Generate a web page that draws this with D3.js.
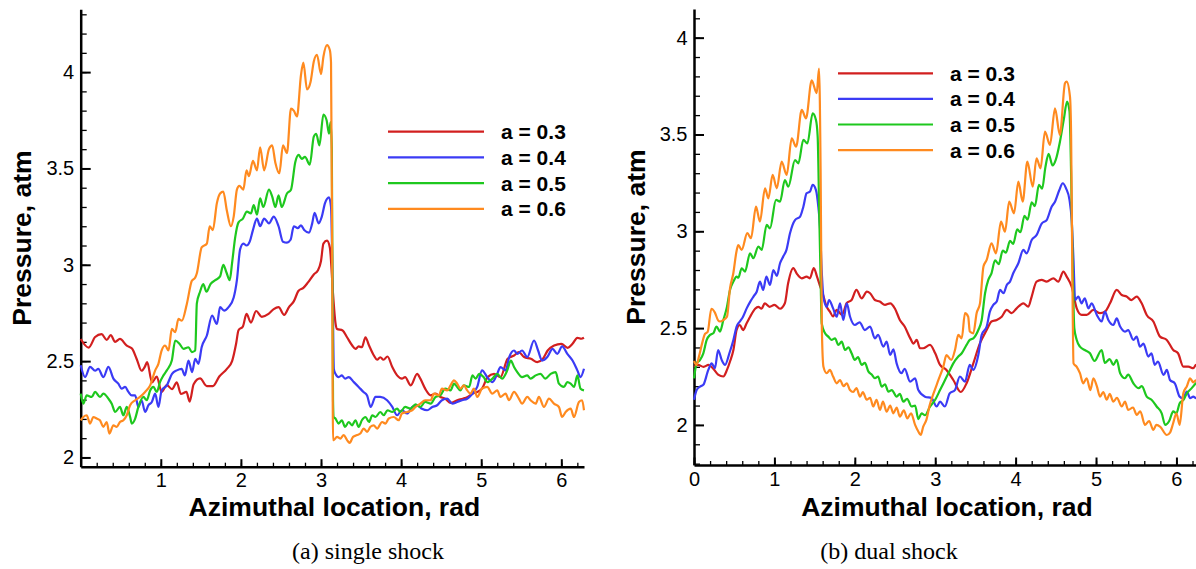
<!DOCTYPE html>
<html>
<head>
<meta charset="utf-8">
<script src="https://cdn.jsdelivr.net/npm/d3@7"></script>
<style>
  body { margin: 0; background: #fff; }
</style>
</head>
<body>
<div id="chart"></div>
<script>
const width = 1196;
const height = 569;

const seriesLabels = ["a = 0.3", "a = 0.4", "a = 0.5", "a = 0.6"];
const seriesColors = ["#d21f1f", "#3b3bf5", "#1ec81e", "#ff8a1f"];

const yTickValues = [2, 2.5, 3, 3.5, 4];
const xTicksSingle = [1, 2, 3, 4, 5, 6];
const xTicksDual = [0, 1, 2, 3, 4, 5, 6];

// (a) single shock : [azimuth rad, pressure atm]
const singleA03 = [[0,2.615],[0.10,2.57],[0.18,2.625],[0.26,2.64],[0.325,2.61],[0.375,2.635],[0.43,2.60],[0.49,2.615],[0.575,2.58],[0.64,2.565],[0.70,2.51],[0.76,2.45],[0.80,2.47],[0.83,2.495],[0.89,2.39],[0.95,2.42],[1.01,2.34],[1.075,2.375],[1.14,2.355],[1.20,2.39],[1.25,2.33],[1.32,2.34],[1.36,2.29],[1.41,2.38],[1.49,2.41],[1.575,2.37],[1.65,2.37],[1.73,2.42],[1.825,2.46],[1.89,2.50],[1.94,2.59],[1.97,2.66],[2.025,2.68],[2.07,2.745],[2.125,2.70],[2.19,2.76],[2.26,2.73],[2.345,2.745],[2.41,2.77],[2.47,2.78],[2.54,2.74],[2.60,2.78],[2.66,2.81],[2.72,2.865],[2.78,2.88],[2.84,2.91],[2.91,2.95],[2.96,2.97],[3.0,3.02],[3.03,3.11],[3.075,3.125],[3.11,3.09],[3.15,2.85],[3.18,2.70],[3.20,2.667],[3.27,2.659],[3.325,2.624],[3.39,2.581],[3.43,2.564],[3.47,2.576],[3.51,2.572],[3.555,2.624],[3.60,2.581],[3.66,2.529],[3.70,2.507],[3.74,2.52],[3.78,2.507],[3.83,2.524],[3.89,2.469],[3.95,2.426],[4.01,2.409],[4.05,2.417],[4.12,2.374],[4.20,2.434],[4.24,2.409],[4.30,2.357],[4.37,2.322],[4.43,2.331],[4.49,2.314],[4.55,2.305],[4.62,2.283],[4.70,2.297],[4.77,2.305],[4.83,2.314],[4.89,2.331],[4.95,2.34],[5.01,2.357],[5.08,2.417],[5.16,2.434],[5.24,2.417],[5.33,2.512],[5.41,2.529],[5.47,2.547],[5.535,2.521],[5.62,2.512],[5.70,2.495],[5.77,2.512],[5.83,2.555],[5.91,2.581],[6.0,2.59],[6.08,2.569],[6.14,2.59],[6.2,2.621],[6.25,2.616],[6.283,2.621]];
const singleA04 = [[0,2.478],[0.054,2.417],[0.117,2.47],[0.18,2.45],[0.22,2.46],[0.283,2.417],[0.346,2.47],[0.408,2.409],[0.47,2.383],[0.51,2.357],[0.554,2.366],[0.596,2.34],[0.637,2.322],[0.68,2.322],[0.72,2.262],[0.76,2.297],[0.804,2.236],[0.846,2.271],[0.888,2.288],[0.93,2.331],[0.97,2.262],[1.01,2.348],[1.075,2.374],[1.14,2.434],[1.2,2.452],[1.26,2.46],[1.30,2.426],[1.346,2.503],[1.39,2.443],[1.43,2.512],[1.47,2.486],[1.51,2.572],[1.575,2.633],[1.64,2.736],[1.70,2.693],[1.74,2.78],[1.79,2.762],[1.846,2.78],[1.91,2.83],[1.95,2.92],[1.99,3.08],[2.03,3.11],[2.07,3.10],[2.11,3.12],[2.15,3.18],[2.2,3.24],[2.24,3.2],[2.29,3.24],[2.35,3.215],[2.41,3.25],[2.47,3.2],[2.525,3.12],[2.575,3.115],[2.62,3.13],[2.66,3.2],[2.71,3.19],[2.75,3.205],[2.79,3.18],[2.85,3.167],[2.89,3.215],[2.92,3.27],[2.97,3.215],[3.01,3.25],[3.05,3.32],[3.1,3.35],[3.125,3.30],[3.145,2.9],[3.16,2.46],[3.18,2.434],[3.22,2.417],[3.26,2.426],[3.30,2.409],[3.346,2.417],[3.41,2.391],[3.47,2.366],[3.53,2.34],[3.575,2.322],[3.62,2.262],[3.68,2.314],[3.74,2.314],[3.825,2.297],[3.89,2.262],[3.95,2.219],[4.01,2.245],[4.075,2.228],[4.14,2.262],[4.2,2.271],[4.26,2.253],[4.325,2.245],[4.39,2.262],[4.45,2.271],[4.51,2.297],[4.575,2.305],[4.64,2.279],[4.70,2.288],[4.76,2.297],[4.825,2.305],[4.89,2.331],[4.95,2.366],[5.01,2.452],[5.075,2.417],[5.14,2.391],[5.2,2.434],[5.24,2.469],[5.305,2.452],[5.35,2.521],[5.41,2.555],[5.45,2.538],[5.51,2.555],[5.575,2.521],[5.66,2.607],[5.71,2.555],[5.76,2.503],[5.825,2.521],[5.89,2.564],[5.95,2.538],[6.01,2.576],[6.075,2.538],[6.14,2.503],[6.2,2.452],[6.24,2.417],[6.283,2.46]];
const singleA05 = [[0,2.331],[0.033,2.279],[0.075,2.322],[0.1375,2.314],[0.18,2.34],[0.24,2.314],[0.283,2.331],[0.346,2.305],[0.3875,2.279],[0.43,2.236],[0.49,2.262],[0.533,2.219],[0.575,2.262],[0.617,2.21],[0.6375,2.176],[0.68,2.202],[0.72,2.262],[0.783,2.314],[0.825,2.297],[0.867,2.348],[0.908,2.366],[0.95,2.34],[0.99,2.391],[1.033,2.426],[1.075,2.452],[1.1375,2.503],[1.18,2.607],[1.233,2.59],[1.283,2.564],[1.346,2.572],[1.3875,2.547],[1.43,2.555],[1.45,2.80],[1.49,2.86],[1.53,2.90],[1.57,2.86],[1.62,2.90],[1.68,2.92],[1.74,2.94],[1.78,3.0],[1.82,2.96],[1.86,2.92],[1.89,3.01],[1.93,3.146],[1.97,3.22],[2.025,3.24],[2.075,3.276],[2.125,3.267],[2.16,3.31],[2.2,3.26],[2.24,3.345],[2.28,3.30],[2.35,3.39],[2.39,3.355],[2.43,3.30],[2.47,3.36],[2.51,3.30],[2.575,3.37],[2.625,3.39],[2.68,3.535],[2.72,3.57],[2.76,3.55],[2.8,3.56],[2.86,3.52],[2.91,3.665],[2.94,3.68],[2.98,3.62],[3.03,3.78],[3.07,3.75],[3.1,3.68],[3.12,3.74],[3.135,3.6],[3.15,2.3],[3.158,2.21],[3.18,2.202],[3.22,2.176],[3.26,2.193],[3.30,2.159],[3.346,2.184],[3.3875,2.167],[3.43,2.193],[3.47,2.159],[3.51,2.193],[3.555,2.21],[3.6,2.184],[3.64,2.219],[3.68,2.21],[3.74,2.236],[3.783,2.219],[3.83,2.245],[3.89,2.236],[3.95,2.253],[3.99,2.236],[4.05,2.262],[4.117,2.253],[4.18,2.276],[4.24,2.262],[4.30,2.288],[4.37,2.279],[4.43,2.314],[4.49,2.322],[4.55,2.357],[4.617,2.348],[4.66,2.383],[4.70,2.366],[4.74,2.348],[4.783,2.374],[4.85,2.366],[4.89,2.426],[4.93,2.409],[4.975,2.434],[5.03,2.417],[5.075,2.391],[5.14,2.409],[5.2,2.434],[5.26,2.409],[5.325,2.452],[5.37,2.503],[5.41,2.469],[5.45,2.443],[5.51,2.417],[5.575,2.426],[5.617,2.409],[5.68,2.426],[5.74,2.434],[5.80,2.409],[5.867,2.434],[5.93,2.443],[5.97,2.383],[6.033,2.366],[6.075,2.391],[6.117,2.383],[6.16,2.366],[6.2,2.426],[6.24,2.357],[6.283,2.348]];
const singleA06 = [[0,2.193],[0.033,2.21],[0.075,2.219],[0.117,2.176],[0.158,2.21],[0.2,2.202],[0.24,2.193],[0.283,2.159],[0.325,2.184],[0.358,2.124],[0.408,2.167],[0.45,2.159],[0.49,2.184],[0.533,2.193],[0.575,2.219],[0.617,2.271],[0.68,2.297],[0.74,2.314],[0.804,2.34],[0.867,2.374],[0.93,2.452],[0.97,2.486],[1.01,2.555],[1.054,2.581],[1.096,2.555],[1.1375,2.667],[1.18,2.65],[1.22,2.719],[1.2625,2.71],[1.325,2.797],[1.3875,2.917],[1.43,2.934],[1.45,2.956],[1.51,3.09],[1.575,3.11],[1.61,3.20],[1.65,3.18],[1.70,3.32],[1.74,3.37],[1.78,3.38],[1.825,3.28],[1.875,3.2],[1.91,3.25],[1.95,3.39],[1.98,3.41],[2.03,3.39],[2.07,3.49],[2.1,3.46],[2.15,3.54],[2.2,3.49],[2.24,3.61],[2.29,3.49],[2.35,3.60],[2.39,3.62],[2.43,3.53],[2.48,3.475],[2.525,3.62],[2.575,3.58],[2.625,3.81],[2.66,3.80],[2.7,3.77],[2.75,3.985],[2.78,4.05],[2.825,3.91],[2.87,3.95],[2.91,4.055],[2.95,4.09],[3.0,3.99],[3.03,4.08],[3.075,4.14],[3.11,4.115],[3.125,4.05],[3.14,3.0],[3.15,2.09],[3.158,2.09],[3.2,2.107],[3.24,2.098],[3.283,2.116],[3.325,2.09],[3.358,2.076],[3.4,2.107],[3.45,2.116],[3.49,2.124],[3.533,2.15],[3.575,2.133],[3.617,2.159],[3.658,2.167],[3.7,2.15],[3.7625,2.184],[3.804,2.176],[3.846,2.202],[3.908,2.21],[3.97,2.193],[4.01,2.228],[4.075,2.236],[4.1375,2.245],[4.18,2.262],[4.24,2.279],[4.30,2.297],[4.37,2.297],[4.41,2.331],[4.47,2.322],[4.51,2.357],[4.575,2.348],[4.617,2.374],[4.66,2.40],[4.70,2.383],[4.74,2.357],[4.783,2.374],[4.825,2.348],[4.867,2.331],[4.908,2.357],[4.95,2.314],[5.01,2.357],[5.075,2.366],[5.1375,2.331],[5.2,2.348],[5.24,2.314],[5.305,2.331],[5.346,2.297],[5.41,2.34],[5.47,2.305],[5.51,2.279],[5.575,2.314],[5.617,2.297],[5.68,2.279],[5.72,2.314],[5.783,2.262],[5.846,2.305],[5.908,2.279],[5.97,2.262],[6.01,2.21],[6.054,2.236],[6.117,2.253],[6.158,2.21],[6.22,2.288],[6.26,2.297],[6.283,2.245]];

// (b) dual shock : [azimuth rad, pressure atm]
const dualA03 = [[0,2.30],[0.05,2.31],[0.12,2.30],[0.18,2.31],[0.24,2.29],[0.30,2.26],[0.365,2.25],[0.41,2.284],[0.45,2.33],[0.49,2.387],[0.53,2.49],[0.57,2.516],[0.61,2.49],[0.655,2.525],[0.70,2.56],[0.76,2.60],[0.80,2.61],[0.84,2.60],[0.88,2.628],[0.94,2.61],[1.0,2.62],[1.07,2.60],[1.13,2.628],[1.17,2.73],[1.235,2.81],[1.28,2.78],[1.34,2.757],[1.40,2.766],[1.44,2.757],[1.49,2.81],[1.53,2.766],[1.57,2.714],[1.60,2.68],[1.65,2.61],[1.69,2.585],[1.73,2.56],[1.775,2.594],[1.84,2.568],[1.90,2.63],[1.96,2.645],[2.02,2.697],[2.085,2.654],[2.15,2.688],[2.19,2.68],[2.25,2.645],[2.31,2.637],[2.375,2.62],[2.44,2.628],[2.50,2.60],[2.56,2.542],[2.62,2.508],[2.69,2.447],[2.73,2.42],[2.77,2.439],[2.81,2.396],[2.85,2.396],[2.935,2.413],[3.0,2.37],[3.06,2.31],[3.14,2.284],[3.225,2.232],[3.317,2.17],[3.39,2.215],[3.474,2.318],[3.557,2.422],[3.64,2.49],[3.70,2.534],[3.765,2.542],[3.827,2.559],[3.89,2.594],[3.95,2.577],[4.013,2.602],[4.096,2.628],[4.158,2.611],[4.2,2.663],[4.26,2.74],[4.324,2.749],[4.386,2.74],[4.47,2.757],[4.53,2.74],[4.594,2.792],[4.635,2.766],[4.697,2.714],[4.76,2.602],[4.822,2.568],[4.884,2.568],[4.967,2.594],[5.05,2.577],[5.11,2.585],[5.174,2.628],[5.257,2.697],[5.32,2.671],[5.38,2.663],[5.44,2.645],[5.506,2.663],[5.568,2.628],[5.63,2.568],[5.713,2.534],[5.796,2.456],[5.88,2.439],[5.96,2.387],[6.02,2.37],[6.086,2.301],[6.148,2.301],[6.21,2.293],[6.244,2.31],[6.283,2.31]];
const dualA04 = [[0,2.13],[0.033,2.18],[0.075,2.198],[0.116,2.207],[0.178,2.284],[0.22,2.318],[0.26,2.293],[0.30,2.387],[0.344,2.336],[0.386,2.31],[0.44,2.37],[0.49,2.439],[0.53,2.508],[0.57,2.534],[0.61,2.559],[0.655,2.602],[0.70,2.637],[0.74,2.663],[0.78,2.688],[0.82,2.74],[0.86,2.697],[0.90,2.766],[0.945,2.723],[0.987,2.80],[1.03,2.77],[1.07,2.835],[1.11,2.87],[1.15,2.904],[1.194,2.99],[1.256,3.058],[1.32,3.076],[1.36,3.127],[1.40,3.196],[1.443,3.205],[1.476,3.24],[1.517,3.213],[1.546,3.127],[1.567,3.024],[1.588,2.80],[1.61,2.66],[1.65,2.61],[1.68,2.645],[1.73,2.602],[1.775,2.559],[1.816,2.628],[1.857,2.542],[1.9,2.628],[1.94,2.56],[2.0,2.516],[2.06,2.53],[2.125,2.49],[2.19,2.508],[2.25,2.447],[2.29,2.465],[2.355,2.404],[2.396,2.43],[2.44,2.361],[2.48,2.39],[2.52,2.318],[2.58,2.267],[2.62,2.29],[2.687,2.224],[2.75,2.24],[2.79,2.18],[2.873,2.146],[2.956,2.138],[3.018,2.095],[3.06,2.12],[3.12,2.095],[3.18,2.163],[3.245,2.18],[3.307,2.25],[3.37,2.224],[3.43,2.31],[3.474,2.284],[3.536,2.361],[3.578,2.465],[3.64,2.508],[3.68,2.585],[3.723,2.62],[3.765,2.637],[3.806,2.697],[3.85,2.68],[3.89,2.723],[3.93,2.74],[3.97,2.783],[4.034,2.835],[4.096,2.904],[4.137,2.886],[4.2,2.955],[4.26,2.98],[4.324,3.04],[4.386,3.058],[4.448,3.127],[4.49,3.153],[4.544,3.213],[4.586,3.248],[4.627,3.222],[4.67,3.162],[4.697,3.058],[4.72,2.85],[4.74,2.645],[4.78,2.663],[4.82,2.628],[4.86,2.654],[4.905,2.602],[4.946,2.628],[5.01,2.568],[5.07,2.534],[5.11,2.585],[5.153,2.542],[5.216,2.516],[5.257,2.55],[5.3,2.508],[5.36,2.482],[5.40,2.49],[5.464,2.439],[5.505,2.456],[5.547,2.404],[5.59,2.42],[5.65,2.353],[5.69,2.37],[5.73,2.31],[5.77,2.327],[5.84,2.258],[5.88,2.284],[5.92,2.232],[5.98,2.215],[6.04,2.146],[6.08,2.138],[6.13,2.172],[6.17,2.138],[6.21,2.146],[6.244,2.138],[6.283,2.14]];
const dualA05 = [[0,2.24],[0.033,2.318],[0.075,2.336],[0.116,2.37],[0.158,2.439],[0.2,2.465],[0.24,2.473],[0.28,2.508],[0.323,2.482],[0.365,2.542],[0.406,2.602],[0.448,2.697],[0.49,2.74],[0.53,2.766],[0.551,2.76],[0.593,2.809],[0.634,2.792],[0.697,2.886],[0.738,2.861],[0.80,2.921],[0.842,2.904],[0.904,3.033],[0.945,3.015],[1.02,3.162],[1.07,3.153],[1.13,3.265],[1.173,3.23],[1.256,3.368],[1.298,3.351],[1.36,3.472],[1.41,3.454],[1.476,3.609],[1.517,3.575],[1.538,3.489],[1.559,3.06],[1.575,2.749],[1.588,2.525],[1.63,2.473],[1.67,2.456],[1.71,2.439],[1.754,2.447],[1.795,2.413],[1.837,2.43],[1.878,2.387],[1.92,2.40],[1.96,2.37],[2.0,2.336],[2.04,2.35],[2.085,2.31],[2.125,2.32],[2.17,2.275],[2.21,2.26],[2.25,2.241],[2.29,2.25],[2.334,2.198],[2.375,2.21],[2.417,2.172],[2.46,2.18],[2.52,2.146],[2.56,2.16],[2.604,2.12],[2.65,2.135],[2.707,2.095],[2.75,2.10],[2.79,2.03],[2.83,2.06],[2.873,2.05],[2.935,2.095],[3.0,2.13],[3.06,2.18],[3.122,2.232],[3.184,2.284],[3.225,2.318],[3.287,2.353],[3.33,2.37],[3.39,2.413],[3.43,2.439],[3.474,2.447],[3.536,2.49],[3.578,2.542],[3.62,2.68],[3.66,2.749],[3.70,2.783],[3.744,2.85],[3.79,2.83],[3.84,2.90],[3.88,2.89],[3.93,2.95],[3.97,2.935],[4.02,3.01],[4.06,2.995],[4.11,3.08],[4.15,3.06],[4.2,3.15],[4.24,3.13],[4.29,3.24],[4.33,3.22],[4.37,3.33],[4.41,3.40],[4.46,3.34],[4.50,3.37],[4.55,3.46],[4.60,3.58],[4.64,3.67],[4.67,3.62],[4.69,3.3],[4.71,2.8],[4.73,2.50],[4.76,2.439],[4.80,2.404],[4.86,2.387],[4.925,2.37],[4.98,2.33],[5.07,2.387],[5.11,2.32],[5.17,2.34],[5.216,2.31],[5.257,2.336],[5.3,2.267],[5.36,2.241],[5.40,2.26],[5.464,2.215],[5.53,2.19],[5.57,2.20],[5.63,2.146],[5.69,2.13],[5.754,2.095],[5.817,2.06],[5.86,2.0],[5.91,2.02],[5.96,2.07],[6.0,2.06],[6.04,2.112],[6.09,2.13],[6.13,2.163],[6.19,2.19],[6.244,2.215],[6.283,2.22]];
const dualA06 = [[0,2.33],[0.03,2.31],[0.06,2.35],[0.1,2.42],[0.137,2.47],[0.17,2.48],[0.216,2.60],[0.26,2.58],[0.30,2.54],[0.323,2.534],[0.365,2.542],[0.41,2.559],[0.448,2.705],[0.489,2.783],[0.53,2.90],[0.551,2.929],[0.593,2.904],[0.663,2.99],[0.709,2.964],[0.771,3.127],[0.82,3.05],[0.883,3.222],[0.925,3.17],[0.978,3.291],[1.03,3.222],[1.09,3.36],[1.153,3.291],[1.215,3.48],[1.27,3.437],[1.34,3.627],[1.393,3.583],[1.464,3.78],[1.526,3.713],[1.555,3.84],[1.575,3.3],[1.59,2.5],[1.61,2.30],[1.65,2.267],[1.69,2.284],[1.73,2.25],[1.775,2.215],[1.816,2.232],[1.86,2.20],[1.90,2.215],[1.94,2.18],[1.98,2.17],[2.02,2.19],[2.065,2.146],[2.10,2.17],[2.148,2.13],[2.19,2.14],[2.23,2.095],[2.27,2.13],[2.313,2.077],[2.35,2.12],[2.396,2.069],[2.44,2.10],[2.48,2.06],[2.52,2.09],[2.56,2.043],[2.61,2.075],[2.653,2.034],[2.70,2.06],[2.75,2.0],[2.79,1.966],[2.82,1.948],[2.85,1.99],[2.89,2.026],[2.93,2.10],[2.977,2.16],[3.04,2.232],[3.1,2.30],[3.14,2.36],[3.2,2.336],[3.246,2.387],[3.287,2.465],[3.33,2.447],[3.37,2.577],[3.41,2.559],[3.43,2.482],[3.474,2.473],[3.515,2.577],[3.557,2.628],[3.6,2.818],[3.64,2.852],[3.70,2.938],[3.756,2.886],[3.818,3.05],[3.868,2.998],[3.92,3.153],[3.98,3.093],[4.034,3.256],[4.088,3.153],[4.146,3.36],[4.213,3.23],[4.26,3.377],[4.31,3.325],[4.365,3.515],[4.427,3.446],[4.49,3.635],[4.55,3.497],[4.614,3.764],[4.635,3.773],[4.676,3.695],[4.69,3.5],[4.705,2.8],[4.72,2.318],[4.76,2.30],[4.80,2.267],[4.84,2.215],[4.884,2.241],[4.93,2.18],[4.967,2.241],[5.01,2.20],[5.05,2.146],[5.09,2.17],[5.133,2.13],[5.17,2.16],[5.216,2.12],[5.26,2.14],[5.32,2.095],[5.36,2.12],[5.4,2.077],[5.46,2.09],[5.506,2.052],[5.55,2.07],[5.61,2.0],[5.66,2.02],[5.713,1.974],[5.75,2.0],[5.80,1.99],[5.88,1.948],[5.92,1.96],[5.96,2.01],[6.0,2.06],[6.04,2.0],[6.086,2.164],[6.13,2.20],[6.17,2.24],[6.21,2.22],[6.244,2.23],[6.283,2.2]];

const panels = [
  {
    series: [singleA03, singleA04, singleA05, singleA06],
    xRange: [80.7, 584], yDomain: [1.952, 4.326], yRange: [466.7, 9.3],
    xTicks: xTicksSingle,
    legend: { x1: 388, x2: 484, tx: 501, y: 131.7, step: 25.7 },
    caption: "(a) single shock", captionX: 368
  },
  {
    series: [dualA03, dualA04, dualA05, dualA06],
    xRange: [694, 1199.2], yDomain: [1.793, 4.148], yRange: [465, 9],
    xTicks: xTicksDual,
    legend: { x1: 838, x2: 933, tx: 950, y: 73.3, step: 25.6 },
    caption: "(b) dual shock", captionX: 889
  }
];

const sans = "'Liberation Sans', Arial, Helvetica, sans-serif";
const serif = "'Liberation Serif', 'Times New Roman', serif";

const svg = d3.select("#chart")
  .append("svg")
  .attr("width", width)
  .attr("height", height)
  .style("background", "#fff");

panels.forEach(p => {
  const x = d3.scaleLinear().domain([0, 2 * Math.PI]).range(p.xRange);
  const y = d3.scaleLinear().domain(p.yDomain).range(p.yRange);
  const bottom = p.yRange[0];
  const left = p.xRange[0];

  const g = svg.append("g");

  // minor ticks
  g.append("g")
    .attr("transform", `translate(0,${bottom})`)
    .call(d3.axisBottom(x).tickValues(d3.range(0, 6.29, 0.2)).tickSize(-4).tickFormat(""))
    .call(a => a.select(".domain").remove())
    .selectAll("line").attr("stroke-width", 1.3);

  g.append("g")
    .attr("transform", `translate(${left},0)`)
    .call(d3.axisLeft(y).tickValues(d3.range(1.8, 4.35, 0.1).filter(v => v >= p.yDomain[0] && v <= p.yDomain[1])).tickSize(-6).tickFormat(""))
    .call(a => a.select(".domain").remove())
    .selectAll("line").attr("stroke-width", 1.3);

  // major ticks
  const xAxis = g.append("g")
    .attr("transform", `translate(0,${bottom})`)
    .call(d3.axisBottom(x).tickValues(p.xTicks).tickSizeInner(-7.5).tickSizeOuter(0).tickPadding(6.6).tickFormat(d => String(d)));
  xAxis.select(".domain").attr("stroke-width", 2.5);
  xAxis.selectAll(".tick line").attr("stroke-width", 2);
  xAxis.selectAll("text")
    .style("font-family", sans)
    .style("font-size", "20px")
    .attr("fill", "#000");

  const yAxis = g.append("g")
    .attr("transform", `translate(${left},0)`)
    .call(d3.axisLeft(y).tickValues(yTickValues).tickSizeInner(-10).tickSizeOuter(0).tickPadding(6.5).tickFormat(d => String(d)));
  yAxis.select(".domain").attr("stroke-width", 2.5);
  yAxis.selectAll(".tick line").attr("stroke-width", 2);
  yAxis.selectAll("text")
    .style("font-family", sans)
    .style("font-size", "20px")
    .attr("fill", "#000");

  // axis titles
  g.append("text")
    .attr("x", (p.xRange[0] + Math.min(p.xRange[1], width)) / 2 + 2)
    .attr("y", 516)
    .attr("text-anchor", "middle")
    .style("font-family", sans)
    .style("font-size", "26.5px")
    .style("font-weight", "bold")
    .text("Azimuthal location, rad");

  g.append("text")
    .attr("transform", `translate(${left - 49.5},${(p.yRange[0] + p.yRange[1]) / 2}) rotate(-90)`)
    .attr("text-anchor", "middle")
    .style("font-family", sans)
    .style("font-size", "26.5px")
    .style("font-weight", "bold")
    .text("Pressure, atm");

  // curves
  const line = d3.line()
    .x(d => x(d[0]))
    .y(d => y(d[1]))
    .curve(d3.curveMonotoneX);

  p.series.forEach((s, i) => {
    g.append("path")
      .datum(s)
      .attr("fill", "none")
      .attr("stroke", seriesColors[i])
      .attr("stroke-width", 2.2)
      .attr("stroke-linejoin", "round")
      .attr("d", line);
  });

  // legend
  const legend = g.append("g");
  seriesLabels.forEach((label, i) => {
    const ly = p.legend.y + i * p.legend.step;
    legend.append("line")
      .attr("x1", p.legend.x1).attr("x2", p.legend.x2)
      .attr("y1", ly).attr("y2", ly)
      .attr("stroke", seriesColors[i])
      .attr("stroke-width", 2.2);
    legend.append("text")
      .attr("x", p.legend.tx)
      .attr("y", ly)
      .attr("dy", "0.36em")
      .style("font-family", sans)
      .style("font-size", "21px")
      .style("font-weight", "bold")
      .text(label);
  });

  // caption
  g.append("text")
    .attr("x", p.captionX)
    .attr("y", 559)
    .attr("text-anchor", "middle")
    .style("font-family", serif)
    .style("font-size", "24px")
    .text(p.caption);
});
</script>
</body>
</html>
